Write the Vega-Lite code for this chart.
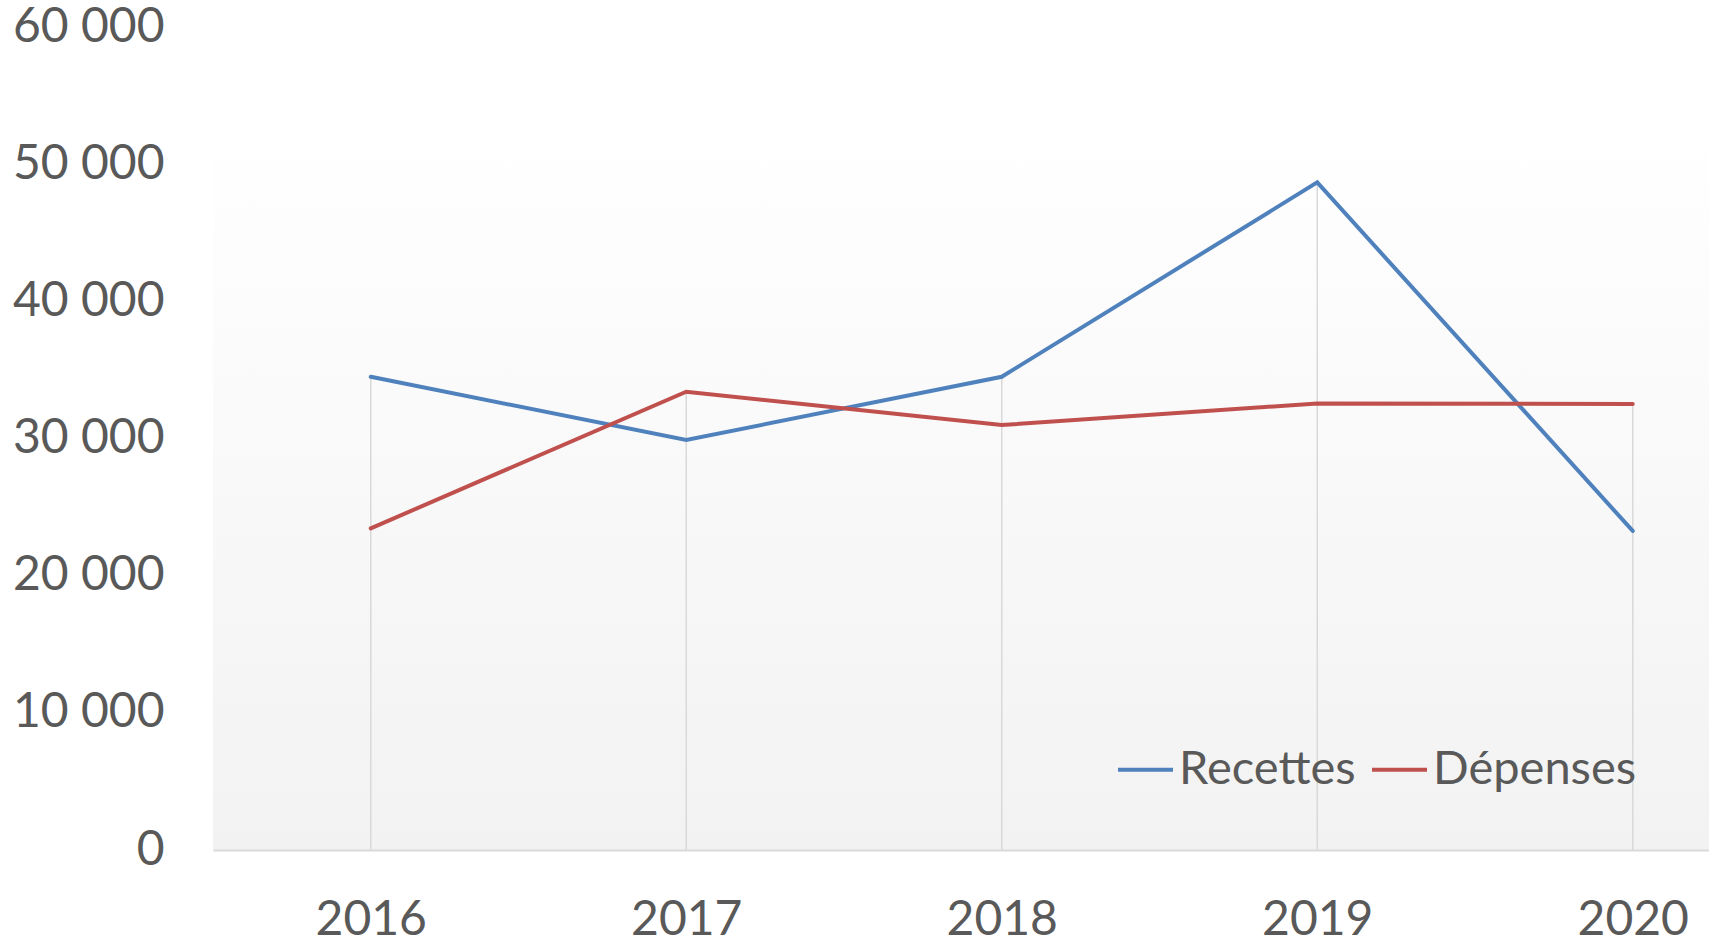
{
  "$schema": "https://vega.github.io/schema/vega-lite/v6.json",
  "autosize": "none",
  "padding": {"left": 213, "top": 27, "right": 0, "bottom": 92},
  "width": 1496,
  "height": 823,
  "background": "#ffffff",
  "config": {
    "locale": {"number": {"decimal": ",", "thousands": " ", "grouping": [3], "currency": ["", " €"]}},
    "view": {
      "stroke": null,
      "fill": {
        "gradient": "linear",
        "x1": 0, "y1": 0, "x2": 0, "y2": 1,
        "stops": [
          {"offset": 0, "color": "#ffffff"},
          {"offset": 0.12, "color": "#ffffff"},
          {"offset": 1, "color": "#f2f2f2"}
        ]
      }
    },
    "font": "Lato"
  },
  "data": {
    "values": [
      {"year": 2016, "serie": "Recettes", "value": 34500},
      {"year": 2017, "serie": "Recettes", "value": 29890},
      {"year": 2018, "serie": "Recettes", "value": 34500},
      {"year": 2019, "serie": "Recettes", "value": 48670},
      {"year": 2020, "serie": "Recettes", "value": 23260},
      {"year": 2016, "serie": "Dépenses", "value": 23450},
      {"year": 2017, "serie": "Dépenses", "value": 33410},
      {"year": 2018, "serie": "Dépenses", "value": 30980},
      {"year": 2019, "serie": "Dépenses", "value": 32560},
      {"year": 2020, "serie": "Dépenses", "value": 32510}
    ]
  },
  "layer": [
    {
      "transform": [{"aggregate": [{"op": "max", "field": "value", "as": "top"}], "groupby": ["year"]}],
      "mark": {"type": "rule", "color": "#d9d9d9", "strokeWidth": 1.5},
      "encoding": {
        "x": {"field": "year", "type": "quantitative"},
        "y": {"field": "top", "type": "quantitative"},
        "y2": {"datum": 0}
      }
    },
    {
      "mark": {"type": "line", "strokeWidth": 4, "strokeCap": "round", "strokeJoin": "miter"},
      "encoding": {
        "x": {
          "field": "year",
          "type": "quantitative",
          "scale": {"domain": [2015.5, 2020.2417], "nice": false, "zero": false},
          "axis": {
            "title": null,
            "values": [2016, 2017, 2018, 2019, 2020],
            "format": "d",
            "labelAngle": 0,
            "ticks": false,
            "grid": false,
            "domain": true,
            "domainColor": "#d9d9d9",
            "domainWidth": 2,
            "labelFontSize": 48,
            "labelColor": "#595959",
            "labelPadding": 46,
            "labelFlush": false,
            "labelOverlap": false
          }
        },
        "y": {
          "field": "value",
          "type": "quantitative",
          "scale": {"domain": [0, 60000], "nice": false},
          "axis": {
            "title": null,
            "values": [0, 10000, 20000, 30000, 40000, 50000, 60000],
            "format": ",.0f",
            "grid": false,
            "domain": false,
            "ticks": false,
            "labelFontSize": 48,
            "labelColor": "#595959",
            "labelPadding": 49,
            "labelFlush": false,
            "labelOverlap": false
          }
        },
        "color": {
          "field": "serie",
          "type": "nominal",
          "scale": {"domain": ["Recettes", "Dépenses"], "range": ["#4f81bd", "#c0504d"]},
          "legend": {
            "title": null,
            "orient": "none",
            "direction": "horizontal",
            "legendX": 903,
            "legendY": 713,
            "padding": 0,
            "symbolType": "stroke",
            "symbolSize": 3025,
            "symbolStrokeWidth": 4,
            "labelFontSize": 47,
            "labelColor": "#595959",
            "labelOffset": 4,
            "labelLimit": 500,
            "columnPadding": 8
          }
        }
      }
    }
  ]
}
